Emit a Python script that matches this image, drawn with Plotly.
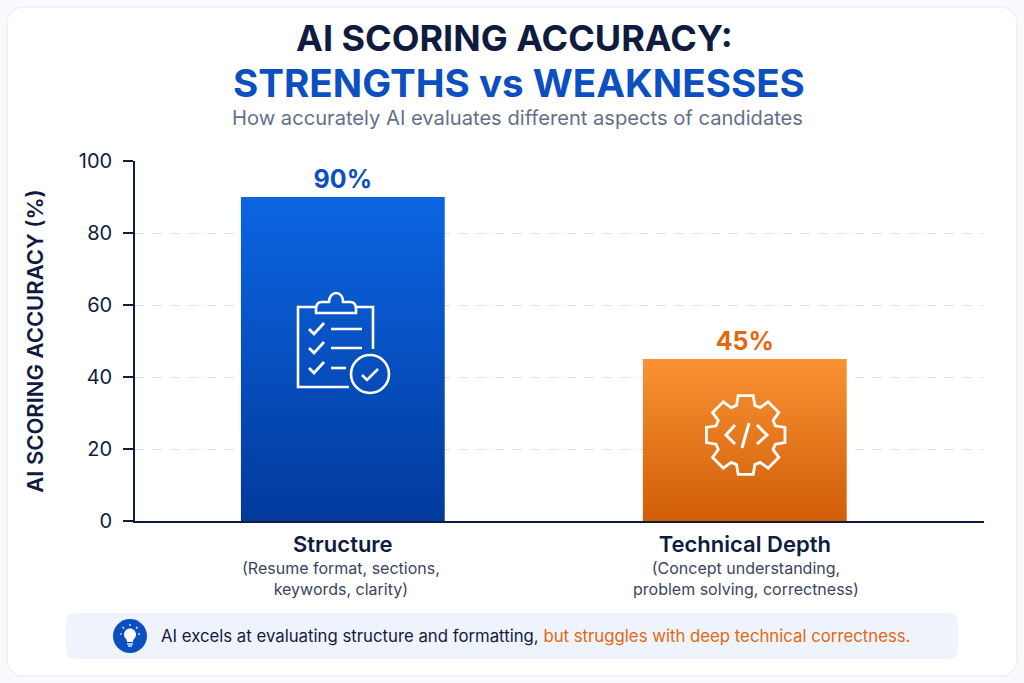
import math
import plotly.graph_objects as go

# ── DATA ─────────────────────────────────────────────────────────────────────
categories = ["Structure", "Technical Depth"]
accuracy = [90, 45]
value_labels = ["90%", "45%"]
sublabels = [
    "(Resume format, sections,<br>keywords, clarity)",
    "(Concept understanding,<br>problem solving, correctness)",
]
y_ticks = [0, 20, 40, 60, 80, 100]

# ── STYLE ────────────────────────────────────────────────────────────────────
W, H = 1024, 683
FONT = "Inter"
NAVY = "#0f1c3f"
BLUE = "#0b4fc0"
ORANGE = "#e2680f"
SLATE = "#64708a"
GRID = "#dde1f0"
WHITE = "#ffffff"


def px(x, y):
    """Pixel position in the picture -> paper coordinates."""
    return f"{x / W:.5f},{1 - y / H:.5f}"


def poly(points, close=False):
    path = "M" + " L".join(px(x, y) for x, y in points)
    return path + (" Z" if close else "")


def circle(cx, cy, r):
    k = 0.5523 * r
    return (
        f"M{px(cx + r, cy)} C{px(cx + r, cy + k)} {px(cx + k, cy + r)} {px(cx, cy + r)} "
        f"C{px(cx - k, cy + r)} {px(cx - r, cy + k)} {px(cx - r, cy)} "
        f"C{px(cx - r, cy - k)} {px(cx - k, cy - r)} {px(cx, cy - r)} "
        f"C{px(cx + k, cy - r)} {px(cx + r, cy - k)} {px(cx + r, cy)} Z"
    )


def round_rect(x0, y0, x1, y1, r):
    k = r * 0.4477
    return (
        f"M{px(x0 + r, y0)} L{px(x1 - r, y0)} C{px(x1 - k, y0)} {px(x1, y0 + k)} {px(x1, y0 + r)} "
        f"L{px(x1, y1 - r)} C{px(x1, y1 - k)} {px(x1 - k, y1)} {px(x1 - r, y1)} "
        f"L{px(x0 + r, y1)} C{px(x0 + k, y1)} {px(x0, y1 - k)} {px(x0, y1 - r)} "
        f"L{px(x0, y0 + r)} C{px(x0, y0 + k)} {px(x0 + k, y0)} {px(x0 + r, y0)} Z"
    )


def shape(path, fill=None, line=None, width=0, layer="above"):
    return dict(
        type="path", xref="paper", yref="paper", path=path, layer=layer,
        fillcolor=fill or "rgba(0,0,0,0)",
        line=dict(color=line or "rgba(0,0,0,0)", width=width),
    )


def stroke(path, width=2.6, color=WHITE):
    return shape(path, line=color, width=width)


def gear_points(cx, cy, outer, inner, teeth=8):
    pts = []
    step = 2 * math.pi / teeth
    for i in range(teeth):
        a = -math.pi / 2 + i * step
        for offset, r in [(-0.30, inner), (-0.19, outer), (0.19, outer), (0.30, inner)]:
            pts.append((cx + r * math.cos(a + offset), cy + r * math.sin(a + offset)))
    return pts


# ── FIGURE ───────────────────────────────────────────────────────────────────
fig = go.Figure()

fig.add_trace(go.Bar(
    x=[0, 1],
    y=accuracy,
    width=0.507,
    marker=dict(color=["#0a55cc", "#ee7d1e"], line=dict(width=0)),
    text=value_labels,
    textposition="outside",
    textfont=dict(size=25, color=[BLUE, ORANGE], family=FONT, weight=700),
    cliponaxis=False,
    showlegend=False,
))

# ── Card, callout and icons ──────────────────────────────────────────────────
clip_tab = (
    f"M{px(316, 309)} C{px(316, 304)} {px(318, 302)} {px(322, 302)} L{px(329, 302)} "
    f"C{px(329, 296)} {px(333, 293)} {px(336, 293)} C{px(340, 293)} {px(343, 296)} {px(343, 302)} "
    f"L{px(350, 302)} C{px(354, 302)} {px(356, 304)} {px(356, 309)} L{px(356, 313)} L{px(316, 313)} Z"
)

shapes = [
    shape(round_rect(7, 7, 1017, 676, 16), fill=WHITE, line="#e8eaf4", width=1, layer="below"),
    shape(round_rect(66, 613, 958, 659, 9), fill="#eff3fb", layer="below"),
    # clipboard
    stroke(poly([(316, 307), (298, 307), (298, 387), (349, 387)])),
    stroke(poly([(356, 307), (373, 307), (373, 349)])),
    stroke(clip_tab),
    stroke(poly([(331, 329), (362, 329)])),
    stroke(poly([(331, 348), (362, 348)])),
    stroke(poly([(331, 368), (346, 368)])),
    stroke(circle(370, 374, 19)),
    stroke(poly([(362, 375), (367, 380), (378, 369)])),
]
for dy in (0, 19, 39):
    shapes.append(stroke(poly([(309, 329 + dy), (314, 334 + dy), (324, 323 + dy)]), width=2.8))

# gear with code brackets
shapes += [
    stroke(poly(gear_points(745.7, 435, 40, 31), close=True), width=2.8),
    stroke(poly([(735, 425), (726, 435), (735, 444)]), width=3),
    stroke(poly([(757, 425), (767, 435), (757, 444)]), width=3),
    stroke(poly([(749, 423), (742, 448)]), width=3),
]

# light bulb
shapes += [
    shape(circle(130, 636, 17), fill=BLUE),
    shape(circle(130, 634.5, 6), fill=WHITE),
    shape(poly([(126.5, 638), (133.5, 638), (133, 642), (127, 642)], close=True), fill=WHITE),
    stroke(poly([(127, 644), (133, 644)]), width=1.3),
    stroke(poly([(128, 646), (132, 646)]), width=1.3),
    stroke(poly([(130, 624), (130, 626)]), width=1.2),
    stroke(poly([(122.5, 627), (124, 628.5)]), width=1.2),
    stroke(poly([(137.5, 627), (136, 628.5)]), width=1.2),
    stroke(poly([(120, 634), (122, 634)]), width=1.2),
    stroke(poly([(140, 634), (138, 634)]), width=1.2),
]

# ── Text ─────────────────────────────────────────────────────────────────────
def note(text, x, y, size, color, weight=400, xanchor="center"):
    return dict(
        text=text, x=x / W, y=1 - y / H, xref="paper", yref="paper",
        xanchor=xanchor, yanchor="middle", showarrow=False, align="center",
        font=dict(family=FONT, size=size, color=color, weight=weight),
    )


annotations = [
    note("AI SCORING ACCURACY:", 514, 38, 36, NAVY, 700),
    note("STRENGTHS vs WEAKNESSES", 518.5, 83, 38.6, BLUE, 700),
    note("How accurately AI evaluates different aspects of candidates", 517.5, 118, 20.15, SLATE),
    note(sublabels[0], 341, 578, 16, "#3a4560"),
    note(sublabels[1], 745.5, 578, 16, "#3a4560"),
    note(
        "AI excels at evaluating structure and formatting, "
        f"<span style='color:{ORANGE}'>but struggles with deep technical correctness.</span>",
        158.5, 636, 16.75, NAVY, xanchor="left",
    ),
]

fig.update_layout(
    width=W,
    height=H,
    margin=dict(l=0, r=0, t=0, b=0, pad=0, autoexpand=False),
    paper_bgcolor="#f9fafd",
    plot_bgcolor="rgba(0,0,0,0)",
    font=dict(family=FONT, color=NAVY),
    shapes=shapes,
    annotations=annotations,
    xaxis=dict(
        domain=[135 / W, 984 / W],
        range=[-0.517, 1.595],
        tickvals=[0, 1],
        ticktext=categories,
        tickfont=dict(family=FONT, size=22, color=NAVY, weight=600),
        ticks="",
        ticklabelstandoff=3,
        showgrid=False,
        zeroline=False,
        showline=True,
        linecolor=NAVY,
        linewidth=1.6,
    ),
    yaxis=dict(
        domain=[1 - 521 / H, 1 - 161 / H],
        range=[0, 100],
        tickvals=y_ticks,
        tickfont=dict(family=FONT, size=20, color=NAVY),
        ticks="outside",
        ticklen=10,
        tickwidth=1.5,
        tickcolor=NAVY,
        ticklabelstandoff=7,
        showline=True,
        linecolor=NAVY,
        linewidth=1.6,
        zeroline=False,
        showgrid=True,
        gridcolor=GRID,
        gridwidth=1,
        griddash="dash",
        title=dict(
            text="AI SCORING ACCURACY (%)",
            font=dict(family=FONT, size=22, color=NAVY, weight=600),
            standoff=29,
        ),
    ),
)

# Plotly bars have no gradient fill, so add SVG gradients once the page is drawn
post_script = """
document.body.style.margin = '0';
document.body.style.overflow = 'hidden';
var svg = document.querySelector('.main-svg');
var ns = 'http://www.w3.org/2000/svg';
var defs = document.createElementNS(ns, 'defs');
[['gradBlue', '#0b65e2', '#023a9c'], ['gradOrange', '#fa9233', '#d05e08']].forEach(function (g) {
    var lg = document.createElementNS(ns, 'linearGradient');
    lg.setAttribute('id', g[0]);
    lg.setAttribute('x1', '0'); lg.setAttribute('y1', '0');
    lg.setAttribute('x2', '0'); lg.setAttribute('y2', '1');
    [[0, g[1]], [1, g[2]]].forEach(function (s) {
        var stop = document.createElementNS(ns, 'stop');
        stop.setAttribute('offset', s[0]);
        stop.setAttribute('stop-color', s[1]);
        lg.appendChild(stop);
    });
    defs.appendChild(lg);
});
svg.appendChild(defs);
var bars = document.querySelectorAll('.barlayer .point path');
if (bars[0]) bars[0].style.fill = 'url(#gradBlue)';
if (bars[1]) bars[1].style.fill = 'url(#gradOrange)';
"""

fig.write_html("out.html", post_script=post_script, config={"displayModeBar": False})
